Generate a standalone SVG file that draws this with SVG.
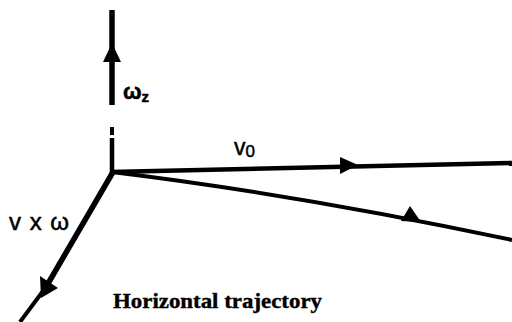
<svg xmlns="http://www.w3.org/2000/svg" width="512" height="322" viewBox="0 0 512 322">
<style>
.ln{stroke:#000;fill:none;stroke-linecap:butt}
.hd{fill:#000;stroke:none}
.lab{font-family:"Liberation Sans",Arial,sans-serif;fill:#000;stroke:#000;stroke-width:0.5}
.ttl{font-family:"Liberation Serif","Times New Roman",serif;font-weight:bold;fill:#000;stroke:#000;stroke-width:0.4}
</style>
<rect width="512" height="322" fill="#fff"/>
<g id="connectors">
<line class="ln" x1="112" y1="10" x2="112" y2="105" stroke-width="5.5"/>
<line class="ln" x1="112" y1="127" x2="112" y2="135" stroke-width="4"/>
<line class="ln" x1="112" y1="138" x2="112" y2="174" stroke-width="4.5"/>
<path class="ln" d="M110,172 L512,163" stroke-width="4.5"/>
<path class="ln" d="M112,172 Q300,195 512,240" stroke-width="4"/>
<path class="ln" d="M113,172 L46,287" stroke-width="5.5"/>
<path class="ln" d="M46,287 L20,322" stroke-width="4"/>
<polygon class="hd" points="112,43 103,62 121,62"/>
<polygon class="hd" points="358,165 340,157 340,174"/>
<polygon class="hd" points="410,206 401,221 421,222"/>
<polygon class="hd" points="41,298 40,276 58,288"/>
</g>
<g id="omega-z">
<text class="lab" x="123" y="99" font-size="22" font-weight="bold">ω<tspan font-size="15" dy="3">z</tspan></text>
</g>
<g id="v0">
<text class="lab" x="234" y="155" font-size="23">v<tspan font-size="17" dy="2">0</tspan></text>
</g>
<g id="vxw">
<text class="lab" x="9" y="230" font-size="24" textLength="60" lengthAdjust="spacing">v x ω</text>
</g>
<g id="title">
<text class="ttl" x="113" y="308" font-size="22" textLength="209" lengthAdjust="spacingAndGlyphs">Horizontal trajectory</text>
</g>
</svg>
